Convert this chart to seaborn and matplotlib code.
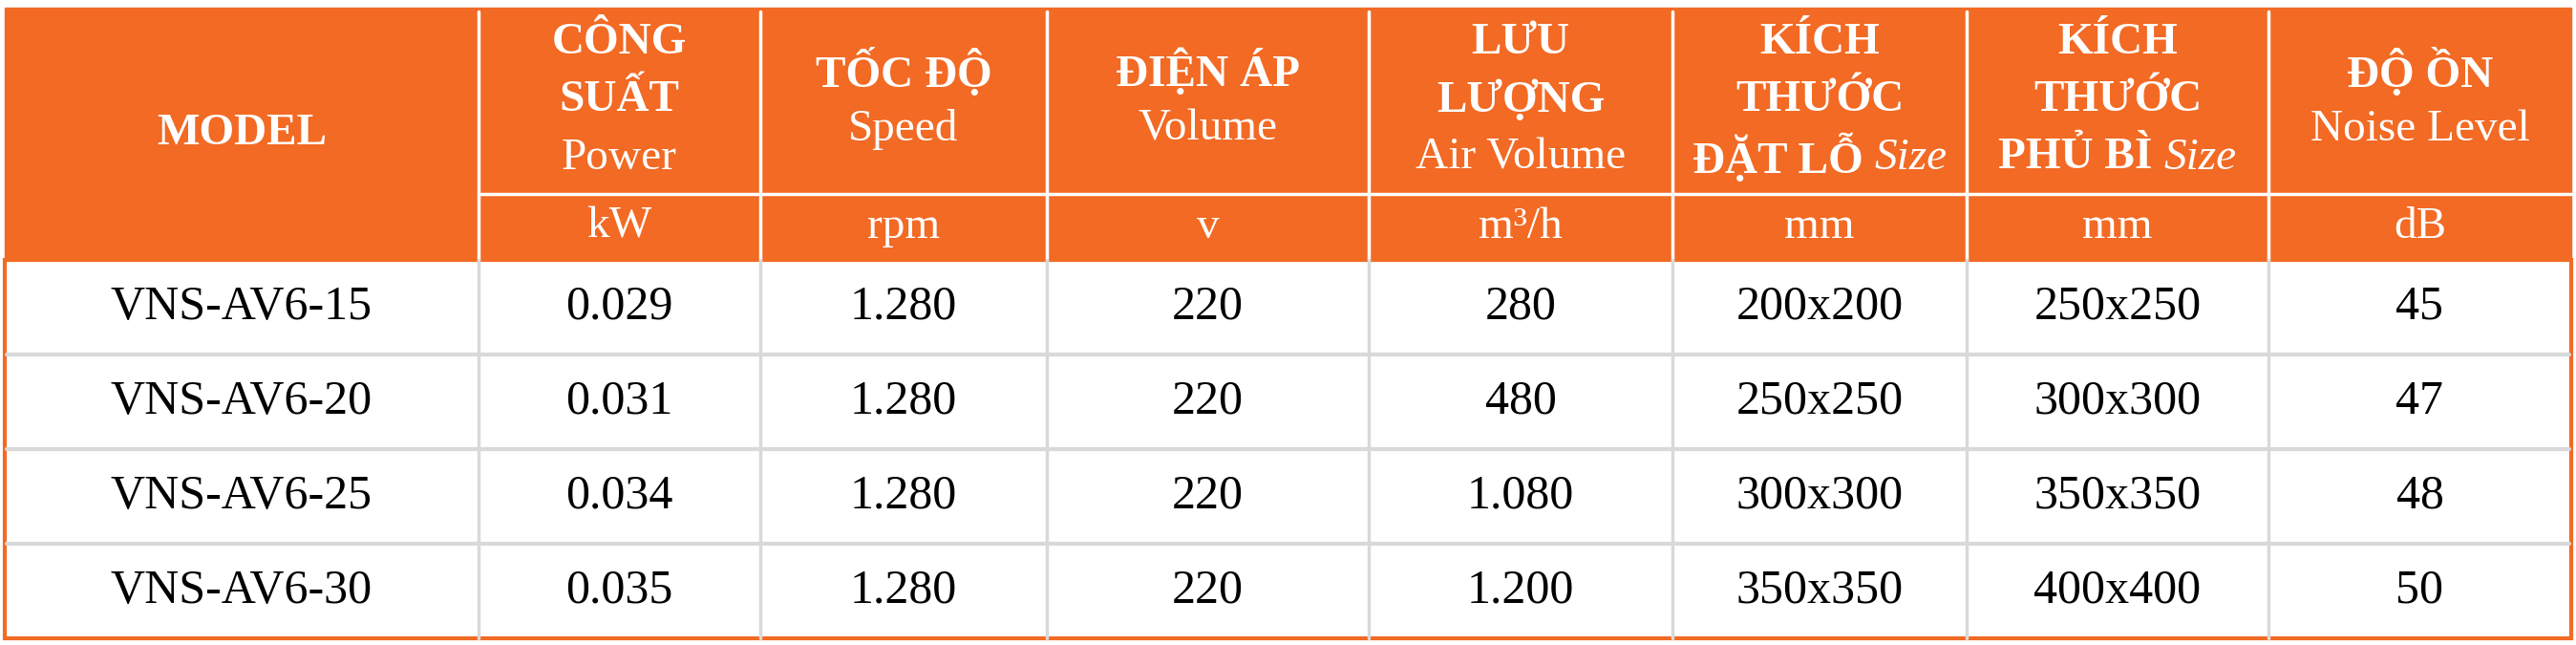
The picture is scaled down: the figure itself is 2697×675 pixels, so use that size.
import matplotlib
matplotlib.use("Agg")
import matplotlib.pyplot as plt
import seaborn as sns
from matplotlib.patches import Rectangle

# Dati della tabella
models = ["VNS-AV6-15", "VNS-AV6-20", "VNS-AV6-25", "VNS-AV6-30"]
power = ["0.029", "0.031", "0.034", "0.035"]
speed = ["1.280", "1.280", "1.280", "1.280"]
voltage = ["220", "220", "220", "220"]
air_volume = ["280", "480", "1.080", "1.200"]
hole_size = ["200x200", "250x250", "300x300", "350x350"]
cover_size = ["250x250", "300x300", "350x350", "400x400"]
noise = ["45", "47", "48", "50"]
units = ["kW", "rpm", "v", "m³/h", "mm", "mm", "dB"]
# header: (righe in grassetto, sottotitolo normale, parola corsiva finale)
headers = [
    (["CÔNG", "SUẤT"], "Power", None),
    (["TỐC ĐỘ"], "Speed", None),
    (["ĐIỆN ÁP"], "Volume", None),
    (["LƯU", "LƯỢNG"], "Air Volume", None),
    (["KÍCH", "THƯỚC", "ĐẶT LỖ"], None, "Size"),
    (["KÍCH", "THƯỚC", "PHỦ BÌ"], None, "Size"),
    (["ĐỘ ỒN"], "Noise Level", None),
]

ORANGE = "#F26A24"
GRID = "#D9D9D9"
W, H = 2697, 675
col_x = [5, 501, 796, 1096, 1433, 1751, 2059, 2375, 2692]
top, sub_y, head_bot, bottom = 8, 203, 272, 668
row_y = [head_bot + i * (bottom - head_bot) / 4 for i in range(5)]

sns.set_style("white")
plt.rcParams["font.family"] = ["Liberation Serif", "DejaVu Serif"]

fig = plt.figure(figsize=(W / 100, H / 100), dpi=100)
ax = fig.add_axes([0, 0, 1, 1])
ax.set_xlim(0, W)
ax.set_ylim(H, 0)
ax.axis("off")

# sfondo header
ax.add_patch(Rectangle((col_x[0], top), col_x[-1] - col_x[0], head_bot - top, color=ORANGE, zorder=1))
# bordo esterno del corpo
ax.add_patch(Rectangle((col_x[0], head_bot), col_x[-1] - col_x[0], bottom - head_bot,
                       facecolor="white", edgecolor=ORANGE, lw=3, zorder=1))

# linee interne header (bianche)
for x in col_x[1:-1]:
    ax.plot([x, x], [top + 4, head_bot], color="white", lw=2.5, zorder=2)
    ax.plot([x, x], [head_bot, bottom], color=GRID, lw=2.5, zorder=2)
ax.plot([col_x[1], col_x[-1]], [sub_y, sub_y], color="white", lw=2.5, zorder=2)
for y in row_y[1:-1]:
    ax.plot([col_x[0] + 2, col_x[-1] - 2], [y, y], color=GRID, lw=3, zorder=2)

FS = 36
ax.text((col_x[0] + col_x[1]) / 2, 140, "MODEL", color="white", fontsize=FS - 2,
        fontweight="bold", ha="center", va="center", zorder=3)

fig.canvas.draw()
renderer = fig.canvas.get_renderer()

for i, (bold_lines, sub, ital) in enumerate(headers):
    cx = (col_x[i + 1] + col_x[i + 2]) / 2
    n = len(bold_lines) + (1 if sub else 0)
    spacing = 60
    y0 = (top + sub_y) / 2 - spacing * (n - 1) / 2
    for j, line in enumerate(bold_lines):
        y = y0 + j * spacing
        if ital and j == len(bold_lines) - 1:
            t1 = ax.text(0, y, line + " ", color="white", fontsize=FS - 2, fontweight="bold",
                         ha="left", va="center", zorder=3)
            t2 = ax.text(0, y, ital, color="white", fontsize=FS - 2, fontstyle="italic",
                         ha="left", va="center", zorder=3)
            w1 = t1.get_window_extent(renderer).width
            w2 = t2.get_window_extent(renderer).width
            start = cx - (w1 + w2) / 2
            t1.set_x(start)
            t2.set_x(start + w1)
        else:
            ax.text(cx, y, line, color="white", fontsize=FS - 2, fontweight="bold",
                    ha="center", va="center", zorder=3)
    if sub:
        ax.text(cx, y0 + len(bold_lines) * spacing, sub, color="white", fontsize=FS - 2,
                ha="center", va="center", zorder=3)
    ax.text(cx, (sub_y + head_bot) / 2, units[i], color="white", fontsize=FS - 2,
            ha="center", va="center", zorder=3)

columns = [models, power, speed, voltage, air_volume, hole_size, cover_size, noise]
for c, values in enumerate(columns):
    cx = (col_x[c] + col_x[c + 1]) / 2
    for r, v in enumerate(values):
        cy = (row_y[r] + row_y[r + 1]) / 2
        ax.text(cx, cy, v, color="black", fontsize=FS, ha="center", va="center", zorder=3)

plt.savefig("out.png", dpi=100)
